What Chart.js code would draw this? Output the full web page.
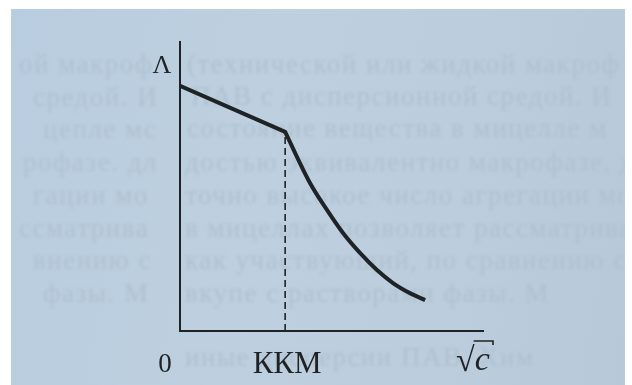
<!DOCTYPE html>
<html>
<head>
<meta charset="utf-8">
<script src="https://cdn.jsdelivr.net/npm/chart.js@4.4.1/dist/chart.umd.min.js"></script>
<style>
  html, body { margin: 0; padding: 0; background: #ffffff; }
  #wrap { position: relative; width: 632px; height: 385px; overflow: hidden; }
  #paper {
    position: absolute; left: 11px; top: 9px; width: 614px; height: 376px; overflow: hidden;
    background: linear-gradient(100deg, #b9cde0 0%, #bed0df 40%, #bccedd 70%, #b7c9d8 100%);
  }
  .ghost {
    position: absolute; white-space: nowrap;
    font-family: "Liberation Serif", serif;
    font-size: 27px; letter-spacing: 1.5px; color: #afc1d0;
    filter: blur(1.4px);
  }
  #chart { position: absolute; left: 0; top: 0; }
</style>
</head>
<body>
<div id="wrap">
  <div id="paper">
    <div class="ghost" style="left:8px;top:40px">ой макроф</div>
    <div class="ghost" style="left:22px;top:73px">средой. И</div>
    <div class="ghost" style="left:32px;top:105px">цепле мс</div>
    <div class="ghost" style="left:12px;top:138px">рофазе. дл</div>
    <div class="ghost" style="left:22px;top:171px">гации мо</div>
    <div class="ghost" style="left:8px;top:204px">ссматрива</div>
    <div class="ghost" style="left:22px;top:236px">внению с</div>
    <div class="ghost" style="left:32px;top:269px">фазы. М</div>
    <div class="ghost" style="left:176px;top:40px">(технической или жидкой макроф</div>
    <div class="ghost" style="left:180px;top:72px">ПАВ с дисперсионной средой. И</div>
    <div class="ghost" style="left:176px;top:104px">состояние вещества в мицелле м</div>
    <div class="ghost" style="left:174px;top:138px">достью эквивалентно макрофазе, д</div>
    <div class="ghost" style="left:174px;top:171px">точно высокое число агрегации мо</div>
    <div class="ghost" style="left:174px;top:204px">в мицеллах позволяет рассматрива</div>
    <div class="ghost" style="left:174px;top:236px">как участвующий, по сравнению с</div>
    <div class="ghost" style="left:174px;top:269px">вкупе с растворами фазы. М</div>
    <div class="ghost" style="left:174px;top:333px">иные дисперсии ПАВ. Хим</div>
  </div>
  <canvas id="chart" width="632" height="385"></canvas>
</div>
<script>
// kinks and curve (arbitrary units, x 0..10, y 0..10)
const kkm = 3.47;
const lineX = [0, 3.47];
const lineY = [8.48, 6.89];
const curveX = [3.47, 4.29, 4.85, 5.38, 5.94, 6.50, 7.03, 7.59, 8.09];
const curveY = [6.89, 5.12, 4.19, 3.39, 2.70, 2.11, 1.66, 1.31, 1.07];
const xTickValues = [0, 3.47, 10];
const xTickLabels = ['0', 'ККМ', '√c'];
const yAxisLabel = 'Λ';

function toPoints(xs, ys) {
    return xs.map((x, i) => ({ x: x, y: ys[i] }));
}

const serif = '"Liberation Serif", "DejaVu Serif", serif';
const ink = '#1f2326';

const labelsPlugin = {
    id: 'labels',
    afterDraw(chart) {
        const ctx = chart.ctx;
        const xs = chart.scales.x;
        ctx.save();
        ctx.fillStyle = ink;
        ctx.textAlign = 'center';
        ctx.textBaseline = 'alphabetic';

        // "0"
        ctx.font = '27px ' + serif;
        ctx.fillText(xTickLabels[0], xs.getPixelForValue(xTickValues[0]) - 15, 372);

        // "ККМ"
        ctx.font = '31px ' + serif;
        ctx.fillText(xTickLabels[1], xs.getPixelForValue(xTickValues[1]) + 2, 373);

        // "√c"
        const px = xs.getPixelForValue(xTickValues[2]);
        ctx.font = '34px ' + serif;
        ctx.textAlign = 'left';
        const rad = xTickLabels[2].charAt(0);
        ctx.fillText(rad, px - 27, 371);
        const rw = ctx.measureText(rad).width;
        ctx.font = 'italic 34px ' + serif;
        ctx.fillText(xTickLabels[2].slice(1), px - 27 + rw, 370);
        ctx.strokeStyle = ink;
        ctx.lineWidth = 1.6;
        ctx.beginPath();
        ctx.moveTo(px - 27 + rw - 1, 341);
        ctx.lineTo(px + 10, 341);
        ctx.lineTo(px + 10, 345);
        ctx.stroke();

        // "Λ"
        ctx.font = '26px ' + serif;
        ctx.textAlign = 'center';
        ctx.fillText(yAxisLabel, xs.getPixelForValue(0) - 18, 73);
        ctx.restore();
    }
};

new Chart(document.getElementById('chart'), {
    type: 'scatter',
    data: {
        datasets: [
            {
                data: toPoints(lineX, lineY),
                showLine: true,
                borderColor: ink,
                borderWidth: 4,
                pointRadius: 0,
                borderCapStyle: 'round'
            },
            {
                data: toPoints(curveX, curveY),
                showLine: true,
                borderColor: ink,
                borderWidth: 4,
                pointRadius: 0,
                cubicInterpolationMode: 'monotone',
                borderCapStyle: 'butt'
            },
            {
                data: [{ x: kkm, y: 0 }, { x: kkm, y: lineY[1] }],
                showLine: true,
                borderColor: ink,
                borderWidth: 1.6,
                borderDash: [7, 4],
                pointRadius: 0
            }
        ]
    },
    options: {
        responsive: false,
        animation: false,
        layout: { padding: { left: 180, right: 149, top: 42, bottom: 54 } },
        plugins: {
            legend: { display: false },
            tooltip: { enabled: false }
        },
        scales: {
            x: {
                type: 'linear',
                min: 0,
                max: 10,
                grid: { display: false, drawTicks: false },
                ticks: { display: false },
                border: { display: true, color: ink, width: 2 }
            },
            y: {
                type: 'linear',
                min: 0,
                max: 10,
                grid: { display: false, drawTicks: false },
                ticks: { display: false },
                border: { display: true, color: ink, width: 2 }
            }
        }
    },
    plugins: [labelsPlugin]
});
</script>
</body>
</html>
